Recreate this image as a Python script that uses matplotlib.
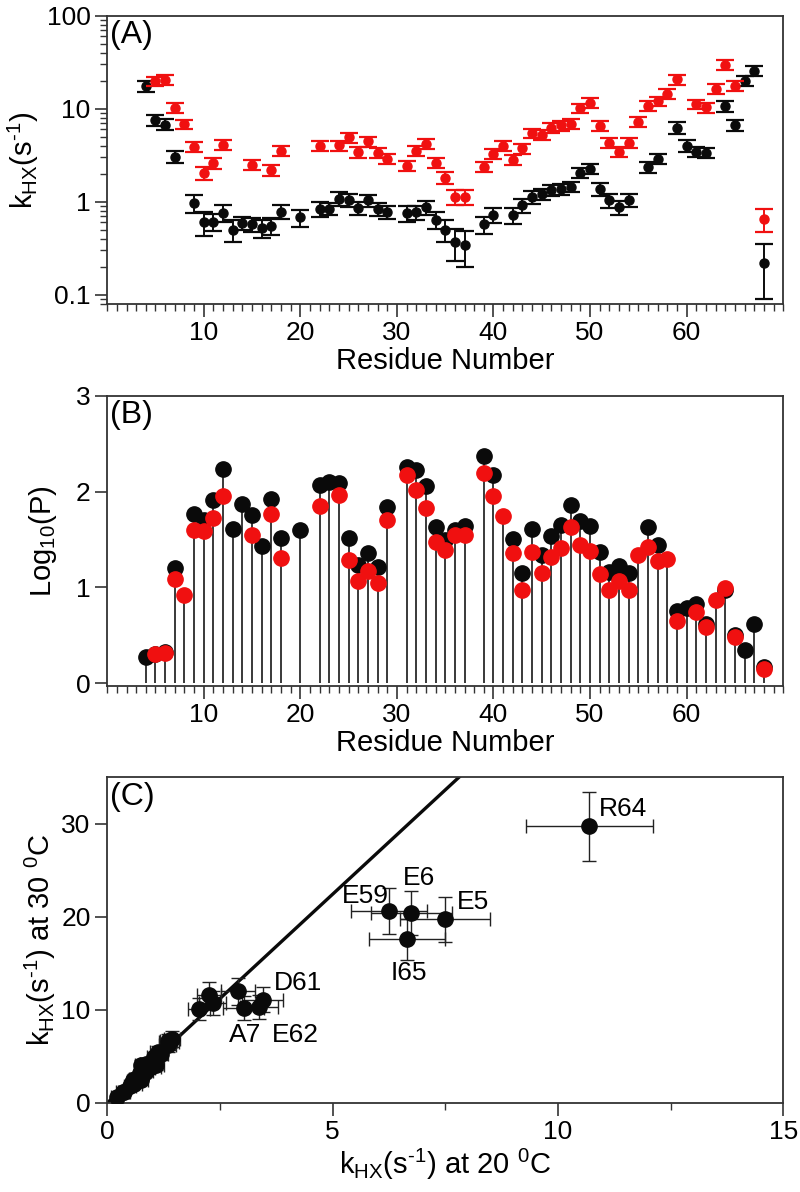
import matplotlib
matplotlib.use('Agg')
import matplotlib.pyplot as plt
from matplotlib.ticker import MultipleLocator, FixedLocator, FixedFormatter, LogLocator, NullFormatter

plt.rcParams['font.family'] = ['Liberation Sans', 'DejaVu Sans']
plt.rcParams['mathtext.fontset'] = 'custom'
plt.rcParams['mathtext.rm'] = 'Liberation Sans'
plt.rcParams['mathtext.it'] = 'Liberation Sans:italic'
plt.rcParams['mathtext.default'] = 'regular'

# exchange rates at 20 C (black)
res20 = [4, 5, 6, 7, 9, 10, 11, 12, 13, 14, 15, 16, 17, 18, 20, 22, 23, 24, 25, 26, 27, 28, 29,
         31, 32, 33, 34, 35, 36, 37, 39, 40, 42, 43, 44, 45, 46, 47, 48, 49, 50, 51, 52, 53, 54,
         56, 57, 59, 60, 61, 62, 64, 65, 66, 67, 68]
k20 = [17.5, 7.5, 6.75, 3.03, 0.97, 0.60, 0.61, 0.76, 0.50, 0.59, 0.57, 0.52, 0.55, 0.78, 0.68,
       0.84, 0.84, 1.08, 1.04, 0.85, 1.03, 0.83, 0.77, 0.75, 0.77, 0.87, 0.64, 0.50, 0.37, 0.34,
       0.57, 0.72, 0.72, 0.91, 1.13, 1.20, 1.34, 1.36, 1.44, 2.04, 2.26, 1.37, 1.03, 0.87, 1.04,
       2.34, 2.90, 6.25, 4.0, 3.45, 3.36, 10.7, 6.65, 20.0, 25.6, 0.22]
k20_err = [2.3, 1.0, 0.9, 0.45, 0.22, 0.17, 0.13, 0.15, 0.13, 0.10, 0.10, 0.11, 0.11, 0.13, 0.14,
           0.15, 0.13, 0.18, 0.16, 0.13, 0.15, 0.13, 0.12, 0.15, 0.13, 0.15, 0.13, 0.13, 0.14, 0.14,
           0.12, 0.13, 0.14, 0.15, 0.18, 0.16, 0.18, 0.18, 0.18, 0.25, 0.27, 0.22, 0.17, 0.15, 0.17,
           0.30, 0.38, 0.85, 0.55, 0.45, 0.42, 1.4, 0.85, 2.5, 3.2, 0.13]

# exchange rates at 30 C (red)
res30 = [5, 6, 7, 8, 9, 10, 11, 12, 15, 17, 18, 22, 24, 25, 26, 27, 28, 29, 31, 32, 33, 34, 35,
         36, 37, 39, 40, 41, 42, 43, 44, 45, 46, 47, 48, 49, 50, 51, 52, 53, 54, 55, 56, 57, 58,
         59, 61, 62, 63, 64, 65, 68]
k30 = [19.7, 20.4, 10.2, 6.8, 3.9, 2.02, 2.62, 4.07, 2.50, 2.19, 3.53, 3.97, 4.04, 4.92, 3.40,
       4.46, 3.36, 2.90, 2.44, 3.53, 4.17, 2.61, 1.81, 1.13, 1.13, 2.38, 3.26, 3.97, 2.81, 3.75,
       5.43, 5.21, 6.25, 6.6, 6.9, 10.1, 11.6, 6.5, 4.3, 3.45, 4.3, 7.26, 10.7, 12.0, 14.5, 20.6,
       11.1, 10.3, 16.3, 29.7, 17.6, 0.65]
k30_err = [2.4, 2.4, 1.3, 0.8, 0.5, 0.33, 0.35, 0.5, 0.32, 0.30, 0.45, 0.48, 0.5, 0.6, 0.42,
           0.55, 0.42, 0.36, 0.32, 0.45, 0.5, 0.33, 0.25, 0.22, 0.22, 0.32, 0.4, 0.48, 0.36, 0.46,
           0.65, 0.62, 0.75, 0.8, 0.85, 1.2, 1.4, 0.8, 0.52, 0.45, 0.55, 0.9, 1.3, 1.45, 1.75, 2.5,
           1.3, 1.25, 2.0, 3.7, 2.2, 0.18]

# protection factors, log10(P)
logP20 = [0.27, 0.30, 0.32, 1.20, 1.77, 1.70, 1.91, 2.24, 1.61, 1.87, 1.76, 1.43, 1.92, 1.52, 1.60,
          2.07, 2.10, 2.09, 1.51, 1.23, 1.36, 1.21, 1.84, 2.26, 2.23, 2.06, 1.63, 1.49, 1.60, 1.64,
          2.37, 2.17, 1.50, 1.15, 1.61, 1.34, 1.54, 1.65, 1.86, 1.69, 1.64, 1.37, 1.16, 1.22, 1.15,
          1.63, 1.44, 0.75, 0.78, 0.83, 0.62, 0.97, 0.50, 0.35, 0.62, 0.17]
logP30 = [0.30, 0.31, 1.09, 0.92, 1.60, 1.59, 1.72, 1.95, 1.55, 1.77, 1.31, 1.85, 1.96, 1.29, 1.07,
          1.17, 1.05, 1.70, 2.17, 2.02, 1.83, 1.47, 1.39, 1.55, 1.55, 2.19, 1.95, 1.74, 1.36, 0.97,
          1.37, 1.15, 1.32, 1.41, 1.63, 1.44, 1.38, 1.14, 0.97, 1.07, 0.97, 1.34, 1.42, 1.27, 1.30,
          0.65, 0.74, 0.59, 0.87, 0.99, 0.48, 0.15]

# labelled residues in panel C
label_names = {64: 'R64', 5: 'E5', 6: 'E6', 59: 'E59', 65: 'I65', 61: 'D61', 7: 'A7', 62: 'E62'}

RED = '#f01010'
BLK = '#0a0a0a'
FRAME = '#333333'
KHX = r'k$_{HX}$(s$^{\text{-}1}$)'

fig = plt.figure(figsize=(8, 11.92), dpi=100)
axA = fig.add_axes([0.134, 0.745, 0.845, 0.2419])
axB = fig.add_axes([0.134, 0.4245, 0.845, 0.2435])
axC = fig.add_axes([0.134, 0.0747, 0.845, 0.2735])

for ax in (axA, axB, axC):
    for s in ax.spines.values():
        s.set_color(FRAME)
        s.set_linewidth(1.3)
    ax.tick_params(which='major', direction='out', length=9, width=1.2, color=FRAME,
                   labelsize=19, pad=3)
    ax.tick_params(which='minor', direction='out', length=5, width=1.0, color=FRAME)

# (A)
axA.errorbar(res20, k20, yerr=k20_err, fmt='o', color=BLK, ms=6.5, ecolor=BLK,
             elinewidth=1.4, capsize=6.5, capthick=1.6, zorder=3)
axA.errorbar(res30, k30, yerr=k30_err, fmt='o', color=RED, ms=6.5, ecolor=RED,
             elinewidth=1.4, capsize=6.5, capthick=1.6, zorder=4)
axA.set_yscale('log')
axA.set_ylim(0.0794, 100)
axA.set_xlim(0, 70)
axA.yaxis.set_major_locator(FixedLocator([0.1, 1, 10, 100]))
axA.yaxis.set_major_formatter(FixedFormatter(['0.1', '1', '10', '100']))
axA.yaxis.set_minor_locator(LogLocator(base=10, subs=range(2, 10)))
axA.yaxis.set_minor_formatter(NullFormatter())
axA.set_ylabel(KHX, fontsize=21, labelpad=4)

# (B)
allres = sorted(set(res20) | set(res30))
top = {}
for r, v in zip(res20, logP20):
    top[r] = max(top.get(r, 0), v)
for r, v in zip(res30, logP30):
    top[r] = max(top.get(r, 0), v)
axB.vlines(allres, 0, [top[r] for r in allres], color='#2a2a2a', lw=1.3, zorder=1)
axB.plot(res20, logP20, 'o', color=BLK, ms=11, zorder=2)
axB.plot(res30, logP30, 'o', color=RED, ms=11, zorder=3)
axB.set_xlim(0, 70)
axB.set_ylim(-0.03, 3)
axB.yaxis.set_major_locator(FixedLocator([0, 1, 2, 3]))
axB.set_ylabel('Log$_{10}$(P)', fontsize=21, labelpad=12)

for ax in (axA, axB):
    ax.xaxis.set_major_locator(FixedLocator([10, 20, 30, 40, 50, 60]))
    ax.xaxis.set_minor_locator(MultipleLocator(1))
    ax.set_xlabel('Residue Number', fontsize=21, labelpad=2)

# (C)
d20 = {r: (v, e) for r, v, e in zip(res20, k20, k20_err)}
d30 = {r: (v, e) for r, v, e in zip(res30, k30, k30_err)}
common = [r for r in res20 if r in d30]
cx = [d20[r][0] for r in common]
cy = [d30[r][0] for r in common]
cxe = [d20[r][1] for r in common]
cye = [d30[r][1] for r in common]
axC.plot([0, 8], [0, 8 * 4.48], color=BLK, lw=2.4, zorder=2)
axC.errorbar(cx, cy, xerr=cxe, yerr=cye, fmt='o', color=BLK, ms=11, ecolor='#222222',
             elinewidth=1.0, capsize=5, capthick=1.0, zorder=3)
label_offsets = {64: (0.2, 1.9), 5: (0.27, 1.9), 6: (-0.2, 3.7), 59: (-1.05, 1.6),
                 65: (-0.35, -3.7), 61: (0.25, 1.8), 7: (-0.32, -2.9), 62: (0.3, -3.0)}
for r, name in label_names.items():
    dx, dy = label_offsets[r]
    axC.text(d20[r][0] + dx, d30[r][0] + dy, name, fontsize=19, ha='left', va='center')
axC.set_xlim(0, 15)
axC.set_ylim(0, 35)
axC.xaxis.set_major_locator(FixedLocator([0, 5, 10, 15]))
axC.xaxis.set_minor_locator(FixedLocator([2.5, 7.5, 12.5]))
axC.yaxis.set_major_locator(FixedLocator([0, 10, 20, 30]))
axC.set_xlabel(KHX + ' at 20 $^{0}$C', fontsize=21, labelpad=2)
axC.set_ylabel(KHX + ' at 30 $^{0}$C', fontsize=21, labelpad=2)

for ax, lab in ((axA, '(A)'), (axB, '(B)'), (axC, '(C)')):
    ax.text(0.004, 0.985, lab, transform=ax.transAxes, ha='left', va='top', fontsize=23)

fig.savefig('out.png', dpi=100)
